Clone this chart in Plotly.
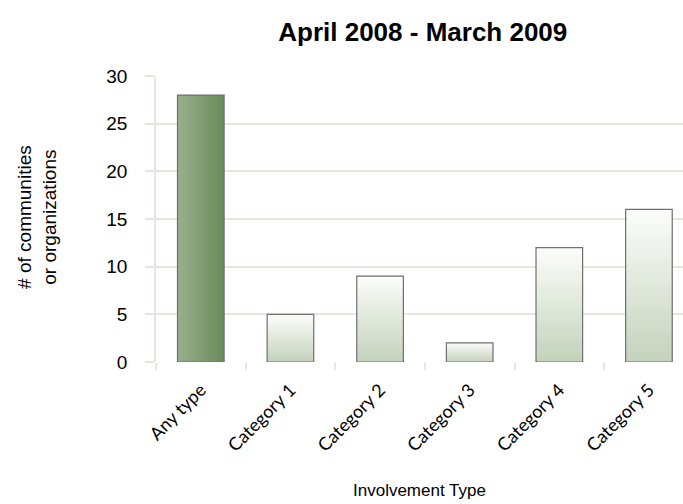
import plotly.graph_objects as go

categories = ["Any type", "Category 1", "Category 2", "Category 3", "Category 4", "Category 5"]
counts = [28, 5, 9, 2, 12, 16]

BAR_W = 0.52
GRID = "#e9e5de"
EDGE = "#6f6f6f"

fig = go.Figure()

# one filled polygon per bar so each gets its own gradient
for i, (cat, val) in enumerate(zip(categories, counts)):
    x0, x1 = i - BAR_W / 2, i + BAR_W / 2
    if i == 0:
        grad = dict(type="horizontal", colorscale=[[0, "#9aaf8e"], [1, "#688b58"]])
    else:
        grad = dict(type="vertical", colorscale=[[0, "#c4d2bb"], [1, "#fcfdfb"]])
    fig.add_trace(go.Scatter(
        x=[x0, x1, x1, x0, x0],
        y=[0, 0, val, val, 0],
        mode="lines",
        fill="toself",
        fillgradient=grad,
        line=dict(color=EDGE, width=1.2),
        name=cat,
        hoverinfo="skip",
        showlegend=False,
    ))

fig.update_layout(
    width=683, height=504,
    margin=dict(l=156, r=0, t=76, b=142),
    paper_bgcolor="white", plot_bgcolor="white",
    font=dict(family="Liberation Sans, Arial, sans-serif", color="#000000"),
    title=dict(text="<b>April 2008 - March 2009</b>", x=0.619, xanchor="center",
               y=0.937, yanchor="middle", font=dict(size=26)),
    showlegend=False,
)

fig.update_xaxes(
    range=[-0.5, 5.38], automargin=False,
    tickmode="array", tickvals=list(range(len(categories))), ticktext=categories,
    tickangle=-45, ticks="", showgrid=False, zeroline=False,
    tickfont=dict(family="Lato, sans-serif", size=18), ticklabelstandoff=13,
    minor=dict(ticks="outside", tick0=-0.5, dtick=1, ticklen=7, tickcolor=GRID, tickwidth=1.5, showgrid=False),
    showline=False,
)

fig.update_yaxes(
    range=[0, 30], tickvals=[0, 5, 10, 15, 20, 25, 30], automargin=False,
    showgrid=True, gridcolor=GRID, gridwidth=1.5,
    zeroline=False, ticks="outside", ticklen=9, tickcolor=GRID, tickwidth=1.5,
    tickfont=dict(size=19), ticklabelstandoff=14,
    showline=True, linecolor=GRID, linewidth=1.5,
)

fig.add_annotation(
    text="# of communities<br>or organizations", textangle=-90,
    xref="paper", yref="paper", x=-0.226, y=0.507, xanchor="center", yanchor="middle",
    showarrow=False, font=dict(size=19),
)
fig.add_annotation(
    text="Involvement Type",
    xref="paper", yref="paper", x=0.5, y=-0.448, xanchor="center", yanchor="middle",
    showarrow=False, font=dict(size=17),
)

fig.write_html("out.html", config={"displayModeBar": False},
               post_script="document.body.style.margin='0';")
